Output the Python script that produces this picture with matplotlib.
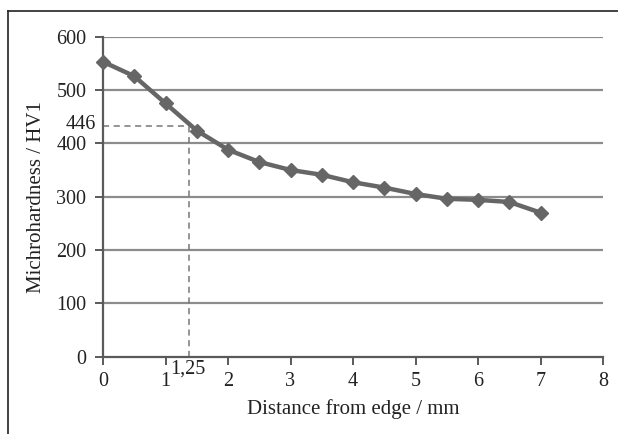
import matplotlib.pyplot as plt
from matplotlib.lines import Line2D

# distance from edge (mm) and microhardness (HV1)
distance = [0, 0.5, 1, 1.5, 2, 2.5, 3, 3.5, 4, 4.5, 5, 5.5, 6, 6.5, 7]
hardness = [553, 526, 475, 424, 388, 365, 350, 341, 327, 317, 305, 296, 294, 290, 270]

# marked point (drawn where the dashed guides sit in the picture)
mark_x = 1.37
mark_y = 432
mark_x_label = "1,25"
mark_y_label = "446"

x_ticks = [0, 1, 2, 3, 4, 5, 6, 7, 8]
y_ticks = [0, 100, 200, 300, 400, 500, 600]

plt.rcParams['font.family'] = ['Liberation Serif', 'DejaVu Serif']

W, H = 618, 434
fig = plt.figure(figsize=(W / 100, H / 100), dpi=100)
ax = fig.add_axes([103 / W, 1 - 356.6 / H, 500 / W, 319.9 / H])

# outer frame, only top and left edges are visible in the picture
fig.lines.append(Line2D([8 / W, 1], [1 - 10.5 / H] * 2, transform=fig.transFigure,
                        color='#222222', linewidth=1.2))
fig.lines.append(Line2D([8 / W] * 2, [0, 1 - 10.5 / H], transform=fig.transFigure,
                        color='#222222', linewidth=1.2))

ax.set_xlim(0, 8)
ax.set_ylim(0, 600)
ax.set_xticks(x_ticks)
ax.set_yticks(y_ticks)

for y in y_ticks[1:]:
    ax.axhline(y, color='#8c8c8c', linewidth=1.6, zorder=1)

for side in ['top', 'right']:
    ax.spines[side].set_visible(False)
for side in ['left', 'bottom']:
    ax.spines[side].set_color('#5a5a5a')
    ax.spines[side].set_linewidth(1.6)

ax.tick_params(axis='both', colors='#5a5a5a', width=1.4, length=6,
               labelsize=14.5, labelcolor='#222222')
ax.tick_params(axis='x', pad=5)
ax.tick_params(axis='y', pad=6)

# dashed guide lines to the marked point
ax.plot([0, mark_x], [mark_y, mark_y], linestyle=(0, (4, 3)), color='#777777',
        linewidth=1.1, zorder=2)
ax.plot([mark_x, mark_x], [0, mark_y], linestyle=(0, (4, 3)), color='#777777',
        linewidth=1.1, zorder=2)

ax.plot(distance, hardness, color='#666666', linewidth=3.2, marker='D',
        markersize=7, markerfacecolor='#666666', markeredgecolor='#666666',
        zorder=3, clip_on=False)

ax.text(-0.11, mark_y + 3, mark_y_label, ha='right', va='center', fontsize=14.5,
        color='#222222')
ax.text(mark_x - 0.01, -6, mark_x_label, ha='center', va='top', fontsize=14.5,
        color='#222222')

ax.set_xlabel('Distance from edge / mm', fontsize=15, color='#222222', labelpad=6)
ax.set_ylabel('Michrohardness / HV1', fontsize=15, color='#222222', labelpad=7)

fig.savefig('out.png', dpi=100)
